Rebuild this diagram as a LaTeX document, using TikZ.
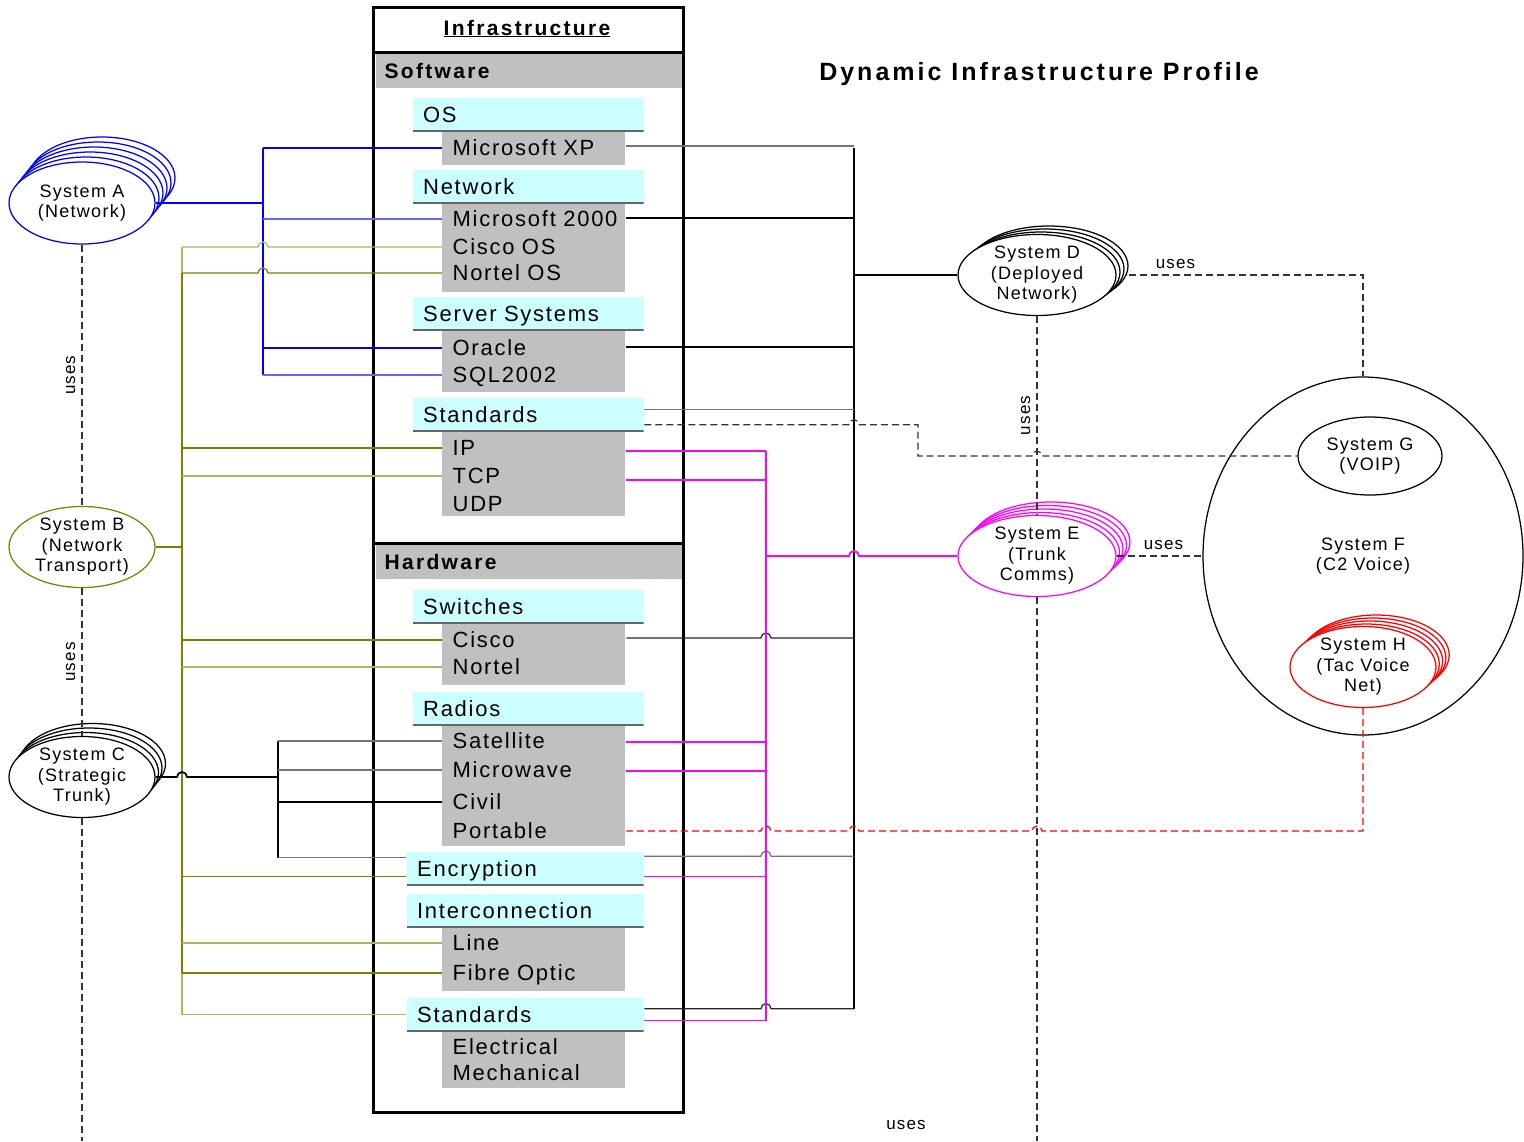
\documentclass[tikz,border=0pt]{standalone}
\usepackage{fontspec}
\setmainfont{Liberation Sans}
\newfontfamily\entryfont{Liberation Sans}[LetterSpace=8]
\newfontfamily\headfont{Liberation Sans}[LetterSpace=11]
\newfontfamily\sysfont{Liberation Sans}[LetterSpace=7]
\newfontfamily\titlefont{Liberation Sans}[LetterSpace=12]
\usetikzlibrary{calc, positioning, shapes.geometric}
\definecolor{boxgray}{RGB}{192,192,192}
\definecolor{catcyan}{RGB}{204,255,255}
\definecolor{olivebus}{RGB}{128,128,0}
\definecolor{pinkbus}{RGB}{255,0,255}

\tikzset{
  entry/.style={anchor=west, text width=163pt, inner xsep=10pt, inner ysep=0pt,
    text height=15.75pt, text depth=0pt, align=left,
    font=\entryfont\fontsize{22}{26}\selectfont},
  cat/.style={anchor=north west, fill=catcyan, minimum height=34pt, inner xsep=10.5pt,
    inner ysep=0pt, text height=15.75pt, text depth=0pt, align=left,
    font=\entryfont\fontsize{22}{26}\selectfont,
    path picture={\draw[line width=3pt, black!60]
      (path picture bounding box.south west) -- (path picture bounding box.south east);}},
  header/.style={anchor=north west, fill=boxgray, minimum height=34pt, text width=288pt,
    inner xsep=9pt, inner ysep=0pt, text height=15pt, text depth=0pt, align=left,
    font=\headfont\bfseries\fontsize{21}{25}\selectfont},
  sys/.style={ellipse, draw, fill=white, inner sep=0pt, align=center,
    font=\sysfont\fontsize{18}{20.5}\selectfont},
  useline/.style={dash pattern=on 7pt off 4pt, black!80},
  uselabel/.style={text=black, font=\sysfont\fontsize{17}{20}\selectfont, inner sep=6pt},
}

\begin{document}
\begin{tikzpicture}[x=1pt,y=-1pt,line width=1.25pt]
\useasboundingbox (0,0) rectangle (1524,1141);

% infrastructure frame
\node[header] (software) at (375,53) {Software};
\node[header] (hardware) at (375,544) {Hardware};
\draw[line width=3pt] (373,7) rectangle (683,1112);
\draw[line width=3pt] (373,52) -- (683,52) (373,543) -- (683,543);
\node[anchor=base, font=\headfont\bfseries\fontsize{21}{25}\selectfont] (infra) at (527,35) {\underline{Infrastructure}};
\node[anchor=base, font=\titlefont\bfseries\fontsize{25}{30}\selectfont] (title) at (1039,80) {Dynamic Infrastructure Profile};

\foreach \ya/\yb in {131/165,204/292,331/392,432/516,624/685,726/846,928/991,1032/1088}
  \fill[boxgray] (442,\ya) rectangle (625,\yb);
\foreach \n/\x/\y/\t in {os/412/97/OS, net/412/169/Network, srv/412/296/Server Systems,
    stdsw/412/397/Standards, swi/412/589/Switches, rad/412/691/Radios,
    enc/406/851/Encryption, icon/406/893/Interconnection, stdhw/406/997/Standards}
{
  \pgfmathsetmacro\w{622-\x}
  \node[cat, text width=\w pt] (\n) at (\x,\y) {\t};
}
\foreach \n/\y/\t in {xp/148/Microsoft XP, ms/219/Microsoft 2000, cos/247/Cisco OS,
    nos/273/Nortel OS, ora/348/Oracle, sql/375/SQL2002, ip/448/IP, tcp/476/TCP, udp/504/UDP,
    cis/640/Cisco, nor/667/Nortel, sat/741/Satellite, mic/770/Microwave, civ/802/Civil,
    por/831/Portable, lin/943/Line, fib/973/Fibre Optic, ele/1047/Electrical, mec/1073/Mechanical}
  \node[entry] (\n) at (442,\y) {\mbox{\t}};

% systems
\foreach \i in {5,...,1}
  \draw[blue, fill=white] (82+4*\i, 203-5*\i) ellipse [x radius=73, y radius=41];
\node[sys, draw=blue, minimum width=146pt, minimum height=82pt] (sysA) at (82,203) {System A\\(Network)};
\node[sys, draw=olivebus, minimum width=146pt, minimum height=80pt] (sysB) at (82,547) {System B\\(Network\\Transport)};
\foreach \i in {3,...,1}
  \draw[fill=white] (82+3.5*\i, 777-4.5*\i) ellipse [x radius=73, y radius=40];
\node[sys, minimum width=146pt, minimum height=80pt] (sysC) at (82,777) {System C\\(Strategic\\Trunk)};
\foreach \i in {3,...,1}
  \draw[fill=white] (1037+4*\i, 275-3*\i) ellipse [x radius=79, y radius=40];
\node[sys, minimum width=158pt, minimum height=80pt] (sysD) at (1037,275) {System D\\(Deployed\\Network)};
\foreach \i in {4,...,1}
  \draw[pinkbus, fill=white] (1037+3.5*\i, 556-3.5*\i) ellipse [x radius=79, y radius=40];
\node[sys, draw=pinkbus, minimum width=158pt, minimum height=80pt] (sysE) at (1037,556) {System E\\(Trunk\\Comms)};
\node[sys, minimum width=320pt, minimum height=358pt] (sysF) at (1363,556) {System F\\(C2 Voice)};
\node[sys, minimum width=144pt, minimum height=78pt] (sysG) at (1370,456) {System G\\(VOIP)};
\foreach \i in {4,...,1}
  \draw[red, fill=white] (1363+3.3*\i, 667-3*\i) ellipse [x radius=73, y radius=40];
\node[sys, draw=red, minimum width=146pt, minimum height=80pt] (sysH) at (1363,667) {System H\\(Tac Voice\\Net)};

% left buses
\coordinate (busA) at (263,203);
\coordinate (busB) at (182,547);
\coordinate (busC) at (278,777);
\draw[blue, line width=2pt] (sysA.east) -- (busA) (busA |- xp.west) -- (busA |- sql.west);
\foreach \n/\c in {xp/blue, ms/blue!60, ora/blue, sql/blue!60}
  \draw[\c] (busA |- \n.west) -- (\n.west);
\draw[olivebus, line width=2pt] (sysB.east) -- (busB);
\draw[olivebus!60] (busB |- cos.west) -- (busB |- stdhw.west);
\draw[olivebus, line width=2pt] (busB |- nos.west) -- (busB |- fib.west);
\foreach \n/\c in {cos/olivebus!60, nos/olivebus}
  \draw[\c] (busB |- \n.west) -- ($(busA |- \n.west)+(-5,0)$) arc[start angle=180, end angle=360, radius=5] -- (\n.west);
\foreach \n/\c in {ip/olivebus, tcp/olivebus!60, cis/olivebus, nor/olivebus!60, lin/olivebus!60, fib/olivebus, stdhw/olivebus!60}
  \draw[\c] (busB |- \n.west) -- (\n.west);
\draw[olivebus] ($(busB |- enc.west)+(0,7.5)$) -- ($(enc.west)+(0,7.5)$);
\draw[line width=1.75pt] (sysC.east) -- ($(busB |- sysC.east)+(-5,0)$) arc[start angle=180, end angle=360, radius=5] -- (busC);
\draw (busC |- sat.west) -- ($(busC |- enc.west)+(0,-11)$);
\foreach \n/\c in {sat/black!55, mic/black!55, civ/black}
  \draw[\c] (busC |- \n.west) -- (\n.west);
\draw[black!55] ($(busC |- enc.west)+(0,-11)$) -- ($(enc.west)+(0,-11)$);

% right buses
\coordinate (busD) at (854,275);
\coordinate (busE) at (766,556);
\draw[line width=1.75pt] (busD) -- (sysD.west);
\draw (busD |- xp.east) -- ($(busD |- stdhw.east)+(0,-6)$);
\foreach \n/\s/\c in {xp/-2/black!55, ms/-1/black, ora/-1/black, stdsw/-5/black!55}
  \draw[\c] ($(\n.east)+(0,\s)$) -- ($(busD |- \n.east)+(0,\s)$);
\foreach \n/\s/\c in {cis/-2/black!85, enc/-12.5/black!55, stdhw/-6/black!85}
  \draw[\c] ($(\n.east)+(0,\s)$) -- ($(busE |- \n.east)+(-5,\s)$) arc[start angle=180, end angle=360, radius=5] -- ($(busD |- \n.east)+(0,\s)$);
\draw[pinkbus] ($(busE |- ip.east)+(0,3)$) -- ($(busE |- stdhw.east)+(0,6)$);
\foreach \n/\s in {ip/3, tcp/4, sat/1, mic/1, enc/7.5, stdhw/6}
  \draw[pinkbus] ($(\n.east)+(0,\s)$) -- ($(busE |- \n.east)+(0,\s)$);
\draw[pinkbus, line width=1.75pt] (busE) -- ($(busD |- busE)+(-5,0)$) arc[start angle=180, end angle=360, radius=5] -- (sysE.west);

% uses
\draw[useline] (sysA.south) -- node[uselabel, rotate=90, anchor=south] {uses} (sysB.north);
\draw[useline] (sysB.south) -- node[uselabel, rotate=90, anchor=south] {uses} (sysC.north);
\coordinate (endC) at (82,1141);
\draw[useline] (sysC.south) -- (endC);
\draw[useline] (sysD.south) -- node[uselabel, rotate=90, anchor=south] {uses} (sysE.north);
\coordinate (endE) at (1037,1141);
\draw[useline] (sysE.south) -- (endE);
\draw[useline] ($(sysD.east)+(12,0)$) -- node[uselabel, above, pos=.2] {uses} (sysD.east -| sysF.north) -- (sysF.north);
\draw[useline] (sysE.east) -- node[uselabel, above, xshift=4pt] {uses} (sysF.west);
\coordinate (stdjog) at (918,456);
\draw[useline] ($(stdsw.east)+(0,10)$) -- ($(busD |- stdsw.east)+(-5,10)$) arc[start angle=180, end angle=360, radius=5]
  -- ($(stdjog |- stdsw.east)+(0,10)$) -- (stdjog) -- ($(sysE.north |- stdjog)+(-5,0)$) arc[start angle=180, end angle=360, radius=5] -- (sysG.west);
\draw[useline, red] (sysH.south) -- (sysH.south |- por.east)
  -- ($(sysE.south |- por.east)+(5,0)$) arc[start angle=0, end angle=-180, radius=5]
  -- ($(busD |- por.east)+(5,0)$) arc[start angle=0, end angle=-180, radius=5]
  -- ($(busE |- por.east)+(5,0)$) arc[start angle=0, end angle=-180, radius=5] -- (por.east);
\node[uselabel] (lone) at (906,1125) {uses};
\end{tikzpicture}
\end{document}
